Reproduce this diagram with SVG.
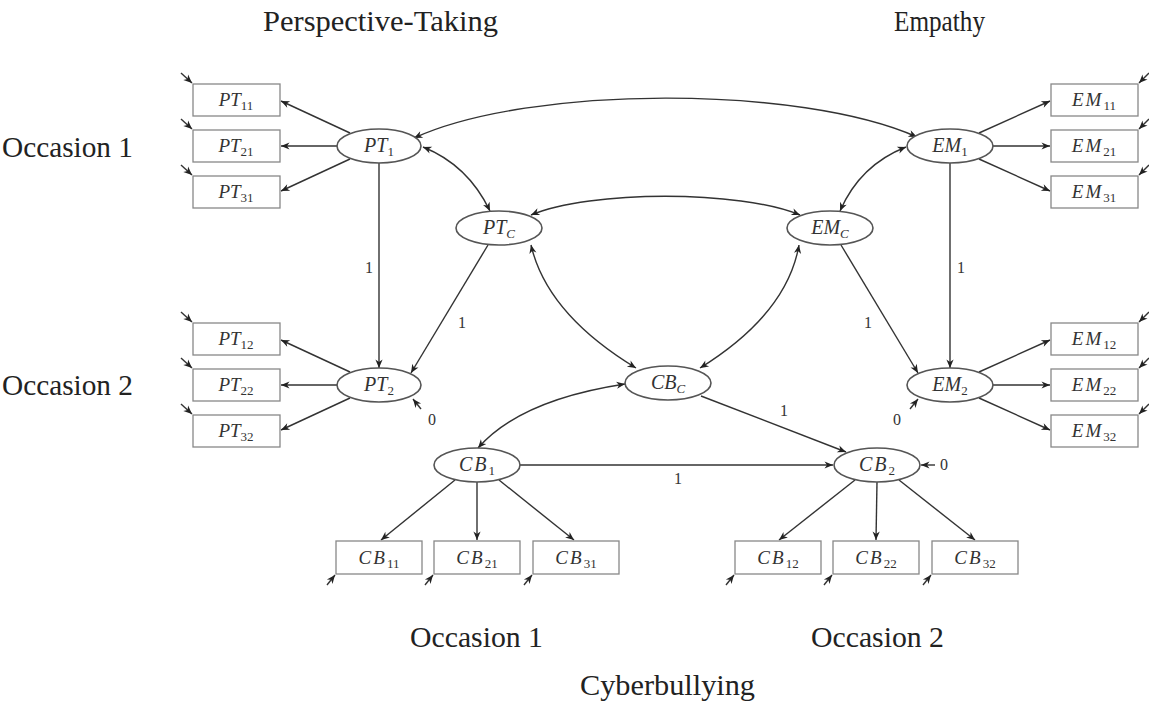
<svg xmlns="http://www.w3.org/2000/svg" width="1149" height="708" viewBox="0 0 1149 708">
<defs>
<marker id="ah" viewBox="-9 -4 10 8" refX="0" refY="0" markerWidth="10" markerHeight="8" markerUnits="userSpaceOnUse" orient="auto-start-reverse">
<path d="M0,0 L-8.5,-3.6 L-6,0 L-8.5,3.6 z" fill="#222"/>
</marker>
<style>
.bx{fill:#fff;stroke:#888;stroke-width:1.3}
.el{fill:#fff;stroke:#555;stroke-width:1.6}
.ln{fill:none;stroke:#333;stroke-width:1.4;marker-end:url(#ah)}
.dl{fill:none;stroke:#333;stroke-width:1.4;marker-end:url(#ah);marker-start:url(#ah)}
.nl{font-family:"Liberation Serif",serif;font-style:italic;font-size:20px;fill:#333;text-anchor:middle}
.bl{font-family:"Liberation Serif",serif;font-style:italic;font-size:19px;fill:#333;text-anchor:middle}
.sub{font-style:normal;font-size:13px}
.subi{font-style:italic;font-size:13px}
.em{letter-spacing:2px}
.num{font-family:"Liberation Serif",serif;font-size:16px;fill:#333;text-anchor:middle}
.tt{font-family:"Liberation Serif",serif;font-size:29px;fill:#222}
</style>
</defs>
<rect width="1149" height="708" fill="#fff"/>

<g id="titles">
<text class="tt" x="263" y="31" textLength="235" lengthAdjust="spacingAndGlyphs">Perspective-Taking</text>
<text class="tt" x="894" y="31" textLength="91" lengthAdjust="spacingAndGlyphs">Empathy</text>
<text class="tt" x="2" y="157" textLength="131" lengthAdjust="spacingAndGlyphs">Occasion 1</text>
<text class="tt" x="2" y="395" textLength="131" lengthAdjust="spacingAndGlyphs">Occasion 2</text>
<text class="tt" x="410" y="647" textLength="133" lengthAdjust="spacingAndGlyphs">Occasion 1</text>
<text class="tt" x="811" y="647" textLength="133" lengthAdjust="spacingAndGlyphs">Occasion 2</text>
<text class="tt" x="580" y="695" textLength="175" lengthAdjust="spacingAndGlyphs">Cyberbullying</text>
</g>

<g id="connectors">
<!-- loadings PT1 -->
<line class="ln" x1="350" y1="133" x2="281" y2="101"/>
<line class="ln" x1="337" y1="146" x2="281" y2="146"/>
<line class="ln" x1="350" y1="159" x2="281" y2="191"/>
<!-- loadings PT2 -->
<line class="ln" x1="350" y1="372" x2="281" y2="340"/>
<line class="ln" x1="337" y1="385" x2="281" y2="385"/>
<line class="ln" x1="350" y1="398" x2="281" y2="430"/>
<!-- loadings EM1 -->
<line class="ln" x1="979" y1="133" x2="1050" y2="101"/>
<line class="ln" x1="993" y1="146" x2="1050" y2="146"/>
<line class="ln" x1="979" y1="159" x2="1050" y2="191"/>
<!-- loadings EM2 -->
<line class="ln" x1="979" y1="372" x2="1050" y2="340"/>
<line class="ln" x1="993" y1="385" x2="1050" y2="385"/>
<line class="ln" x1="979" y1="398" x2="1050" y2="430"/>
<!-- loadings CB1 -->
<line class="ln" x1="455" y1="480" x2="381" y2="540"/>
<line class="ln" x1="477" y1="482" x2="477" y2="540"/>
<line class="ln" x1="499" y1="480" x2="574" y2="540"/>
<!-- loadings CB2 -->
<line class="ln" x1="855" y1="480" x2="779" y2="540"/>
<line class="ln" x1="877" y1="482" x2="876" y2="540"/>
<line class="ln" x1="899" y1="480" x2="975" y2="540"/>
<!-- structural paths -->
<line class="ln" x1="379" y1="163" x2="379" y2="368"/>
<line class="ln" x1="950" y1="163" x2="950" y2="368"/>
<line class="ln" x1="488" y1="245" x2="411" y2="373"/>
<line class="ln" x1="841" y1="245" x2="918" y2="373"/>
<line class="ln" x1="701" y1="396" x2="846" y2="452"/>
<line class="ln" x1="520" y1="465" x2="833" y2="465"/>
<!-- covariances -->
<path class="dl" d="M414,138 C530,85 800,85 917,137"/>
<path class="dl" d="M423,147 Q468,165 490,211"/>
<path class="dl" d="M906,147 Q860,165 840,211"/>
<path class="dl" d="M531,215 C590,190 740,190 800,215"/>
<path class="dl" d="M531,245 Q547,314 636,368"/>
<path class="dl" d="M799,245 Q787,314 700,368"/>
<path class="dl" d="M478,448 Q520,400 625,384"/>
<!-- residual arrows -->
<line class="ln" x1="421" y1="409" x2="413" y2="399"/>
<line class="ln" x1="910" y1="409" x2="918" y2="399"/>
<line class="ln" x1="935" y1="465" x2="921" y2="465"/>
<!-- error arrows left -->
<line class="ln" x1="181" y1="73" x2="192" y2="83"/>
<line class="ln" x1="181" y1="119" x2="192" y2="129"/>
<line class="ln" x1="181" y1="165" x2="192" y2="175"/>
<line class="ln" x1="181" y1="312" x2="192" y2="322"/>
<line class="ln" x1="181" y1="358" x2="192" y2="368"/>
<line class="ln" x1="181" y1="404" x2="192" y2="414"/>
<!-- error arrows right -->
<line class="ln" x1="1149" y1="73" x2="1139" y2="83"/>
<line class="ln" x1="1149" y1="119" x2="1139" y2="129"/>
<line class="ln" x1="1149" y1="165" x2="1139" y2="175"/>
<line class="ln" x1="1149" y1="312" x2="1139" y2="322"/>
<line class="ln" x1="1149" y1="358" x2="1139" y2="368"/>
<line class="ln" x1="1149" y1="404" x2="1139" y2="414"/>
<!-- error arrows bottom -->
<line class="ln" x1="327" y1="585" x2="335" y2="575"/>
<line class="ln" x1="425" y1="585" x2="433" y2="575"/>
<line class="ln" x1="524" y1="585" x2="532" y2="575"/>
<line class="ln" x1="726" y1="585" x2="734" y2="575"/>
<line class="ln" x1="824" y1="585" x2="832" y2="575"/>
<line class="ln" x1="923" y1="585" x2="931" y2="575"/>
</g>

<g id="path-labels">
<text class="num" x="369" y="273">1</text>
<text class="num" x="961" y="273">1</text>
<text class="num" x="462" y="328">1</text>
<text class="num" x="868" y="328">1</text>
<text class="num" x="784" y="416">1</text>
<text class="num" x="678" y="484">1</text>
<text class="num" x="432" y="425">0</text>
<text class="num" x="897" y="425">0</text>
<text class="num" x="944" y="470">0</text>
</g>

<!-- indicator boxes -->
<g id="PT11"><rect class="bx" x="193" y="84" width="87" height="32"/><text class="bl" x="236" y="106">PT<tspan class="sub" dy="4">11</tspan></text></g>
<g id="PT21"><rect class="bx" x="193" y="130" width="87" height="32"/><text class="bl" x="236" y="152">PT<tspan class="sub" dy="4">21</tspan></text></g>
<g id="PT31"><rect class="bx" x="193" y="176" width="87" height="32"/><text class="bl" x="236" y="198">PT<tspan class="sub" dy="4">31</tspan></text></g>
<g id="PT12"><rect class="bx" x="193" y="323" width="87" height="32"/><text class="bl" x="236" y="345">PT<tspan class="sub" dy="4">12</tspan></text></g>
<g id="PT22"><rect class="bx" x="193" y="369" width="87" height="32"/><text class="bl" x="236" y="391">PT<tspan class="sub" dy="4">22</tspan></text></g>
<g id="PT32"><rect class="bx" x="193" y="415" width="87" height="32"/><text class="bl" x="236" y="437">PT<tspan class="sub" dy="4">32</tspan></text></g>

<g id="EM11"><rect class="bx" x="1051" y="84" width="87" height="32"/><text class="bl" x="1094" y="106"><tspan class="em">EM</tspan><tspan class="sub" dy="4">11</tspan></text></g>
<g id="EM21"><rect class="bx" x="1051" y="130" width="87" height="32"/><text class="bl" x="1094" y="152"><tspan class="em">EM</tspan><tspan class="sub" dy="4">21</tspan></text></g>
<g id="EM31"><rect class="bx" x="1051" y="176" width="87" height="32"/><text class="bl" x="1094" y="198"><tspan class="em">EM</tspan><tspan class="sub" dy="4">31</tspan></text></g>
<g id="EM12"><rect class="bx" x="1051" y="323" width="87" height="32"/><text class="bl" x="1094" y="345"><tspan class="em">EM</tspan><tspan class="sub" dy="4">12</tspan></text></g>
<g id="EM22"><rect class="bx" x="1051" y="369" width="87" height="32"/><text class="bl" x="1094" y="391"><tspan class="em">EM</tspan><tspan class="sub" dy="4">22</tspan></text></g>
<g id="EM32"><rect class="bx" x="1051" y="415" width="87" height="32"/><text class="bl" x="1094" y="437"><tspan class="em">EM</tspan><tspan class="sub" dy="4">32</tspan></text></g>

<g id="CB11"><rect class="bx" x="336" y="541" width="86" height="33"/><text class="bl" x="379" y="564"><tspan class="em">CB</tspan><tspan class="sub" dy="4">11</tspan></text></g>
<g id="CB21"><rect class="bx" x="434" y="541" width="86" height="33"/><text class="bl" x="477" y="564"><tspan class="em">CB</tspan><tspan class="sub" dy="4">21</tspan></text></g>
<g id="CB31"><rect class="bx" x="533" y="541" width="86" height="33"/><text class="bl" x="576" y="564"><tspan class="em">CB</tspan><tspan class="sub" dy="4">31</tspan></text></g>
<g id="CB12"><rect class="bx" x="735" y="541" width="86" height="33"/><text class="bl" x="778" y="564"><tspan class="em">CB</tspan><tspan class="sub" dy="4">12</tspan></text></g>
<g id="CB22"><rect class="bx" x="833" y="541" width="86" height="33"/><text class="bl" x="876" y="564"><tspan class="em">CB</tspan><tspan class="sub" dy="4">22</tspan></text></g>
<g id="CB32"><rect class="bx" x="932" y="541" width="86" height="33"/><text class="bl" x="975" y="564"><tspan class="em">CB</tspan><tspan class="sub" dy="4">32</tspan></text></g>

<!-- latent variables -->
<g id="PT1"><ellipse class="el" cx="379" cy="146" rx="42" ry="17"/><text class="nl" x="379" y="152">PT<tspan class="sub" dy="4">1</tspan></text></g>
<g id="PT2"><ellipse class="el" cx="379" cy="385" rx="42" ry="17"/><text class="nl" x="379" y="391">PT<tspan class="sub" dy="4">2</tspan></text></g>
<g id="EM1"><ellipse class="el" cx="950" cy="146" rx="43" ry="17"/><text class="nl" x="950" y="152">EM<tspan class="sub" dy="4">1</tspan></text></g>
<g id="EM2"><ellipse class="el" cx="950" cy="385" rx="43" ry="17"/><text class="nl" x="950" y="391">EM<tspan class="sub" dy="4">2</tspan></text></g>
<g id="PTC"><ellipse class="el" cx="499" cy="228" rx="43" ry="17"/><text class="nl" x="499" y="234">PT<tspan class="subi" dy="4">C</tspan></text></g>
<g id="EMC"><ellipse class="el" cx="830" cy="228" rx="43" ry="17"/><text class="nl" x="830" y="234">EM<tspan class="subi" dy="4">C</tspan></text></g>
<g id="CBC"><ellipse class="el" cx="668" cy="383" rx="43" ry="17"/><text class="nl" x="668" y="389">CB<tspan class="subi" dy="4">C</tspan></text></g>
<g id="CB1"><ellipse class="el" cx="477" cy="465" rx="43" ry="17"/><text class="nl" x="477" y="471"><tspan class="em">CB</tspan><tspan class="sub" dy="4">1</tspan></text></g>
<g id="CB2"><ellipse class="el" cx="877" cy="465" rx="43" ry="17"/><text class="nl" x="877" y="471"><tspan class="em">CB</tspan><tspan class="sub" dy="4">2</tspan></text></g>
</svg>
